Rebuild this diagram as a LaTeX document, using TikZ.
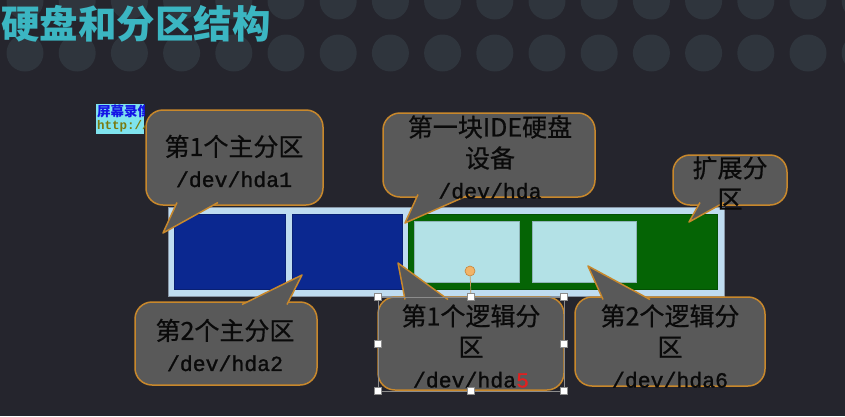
\documentclass[tikz,border=0pt]{standalone}
\usepackage{fontspec}
\newfontfamily\cjk{Noto Sans CJK SC}
\newfontfamily\cjkbody[FakeBold=0.6]{Noto Sans CJK SC}
\newfontfamily\monofnt{Liberation Mono}
\newfontfamily\monobody[FakeBold=1.2]{Liberation Mono}
\definecolor{bgc}{HTML}{25252D}
\definecolor{dotc}{HTML}{2F353D}
\definecolor{titlec}{HTML}{3BB6C2}
\definecolor{callfill}{HTML}{595959}
\definecolor{calledge}{HTML}{C8882C}
\definecolor{calltextc}{HTML}{0A0A0A}
\definecolor{framec}{HTML}{BFDCF0}
\definecolor{frameedge}{HTML}{8896A6}
\definecolor{pblue}{HTML}{0B2890}
\definecolor{pgreen}{HTML}{056405}
\definecolor{plight}{HTML}{B3E1E6}
\definecolor{wmbg}{HTML}{7FE3EE}
\definecolor{wmblue}{HTML}{1414E6}
\definecolor{wmolive}{HTML}{7A7A10}
\definecolor{redfive}{HTML}{E02020}
\definecolor{rotfill}{HTML}{F2B468}
\definecolor{rotedge}{HTML}{C8843A}
\definecolor{rotline}{HTML}{C8965A}
\newcommand\pathtxt[1]{{\monobody\fontsize{21.5}{31}\selectfont #1}}
\begin{document}
\begin{tikzpicture}[x=1pt,y=-1pt,
  callbox/.style={draw=calledge, fill=callfill, line width=1.5pt, rounded corners=17pt, inner sep=0pt},
  tailedge/.style={draw=calledge, line width=1.5pt, line join=round},
  calltext/.style={font={\cjkbody\fontsize{25}{31}\selectfont}, text=calltextc, align=center, inner sep=0pt},
  handle/.style={draw=black!45, fill=white, minimum size=7pt, inner sep=0pt, line width=0.6pt}
]
\useasboundingbox (0,0) rectangle (845,416);
\fill[bgc] (0,0) rectangle (845,416);

% dotted header band
\foreach \i in {0,...,16} {
  \fill[dotc] (25+52.2*\i,1) circle (18.5);
  \fill[dotc] (25+52.2*\i,53) circle (18.5);
}

% title
\node[font={\cjk\bfseries\fontsize{38.5}{40}\selectfont}, text=titlec, anchor=west, inner sep=0pt] (title) at (1,23.5) {硬盘和分区结构};

% recorder watermark
\begin{scope}
  \clip (96,104) rectangle (144,134);
  \fill[wmbg] (96,104) rectangle (144,134);
  \node[anchor=west, inner sep=0pt, font={\cjk\bfseries\fontsize{13.5}{14}\selectfont}, text=wmblue] (wmA) at (97,111) {屏幕录像};
  \node[anchor=west, inner sep=0pt, font={\monofnt\bfseries\fontsize{12.5}{13}\selectfont}, text=wmolive] (wmB) at (97,126) {http://};
\end{scope}

% disk bar with partitions
\filldraw[fill=framec, draw=frameedge, line width=0.8pt] (168,207) rectangle (724,296);
\filldraw[fill=pblue, draw=pblue!80!black, line width=0.5pt] (174,214) rectangle (285,289);
\filldraw[fill=pblue, draw=pblue!80!black, line width=0.5pt] (292,214) rectangle (402,289);
\filldraw[fill=pgreen, draw=pgreen!80!black, line width=0.5pt] (408,214) rectangle (717,289);
\filldraw[fill=plight, draw=plight!80!black, line width=0.4pt] (414,221) rectangle (519,282);
\filldraw[fill=plight, draw=plight!80!black, line width=0.4pt] (532,221) rectangle (636,282);

% callouts above the bar
\node[callbox, minimum width=177pt, minimum height=95pt] (c1) at (234.5,157.5) {};
\coordinate (c1a) at (177,202.5); \coordinate (c1tip) at (163,233); \coordinate (c1b) at (218,202.5);
\fill[callfill] (c1a) -- (c1tip) -- (c1b) -- cycle;
\draw[tailedge] (c1a) -- (c1tip) -- (c1b);

\node[callbox, minimum width=212pt, minimum height=84pt] (c2) at (489,155) {};
\coordinate (c2a) at (418,194.5); \coordinate (c2tip) at (405,223); \coordinate (c2b) at (470,194.5);
\fill[callfill] (c2a) -- (c2tip) -- (c2b) -- cycle;
\draw[tailedge] (c2a) -- (c2tip) -- (c2b);

\node[callbox, minimum width=114pt, minimum height=50pt] (c3) at (730,180) {};
\coordinate (c3a) at (700,202.5); \coordinate (c3tip) at (689,222); \coordinate (c3b) at (724,202.5);
\fill[callfill] (c3a) -- (c3tip) -- (c3b) -- cycle;
\draw[tailedge] (c3a) -- (c3tip) -- (c3b);

% callouts below the bar
\node[callbox, minimum width=182pt, minimum height=83pt] (c4) at (226,343.5) {};
\coordinate (c4a) at (242,304.5); \coordinate (c4tip) at (302,275); \coordinate (c4b) at (287,304.5);
\fill[callfill] (c4a) -- (c4tip) -- (c4b) -- cycle;
\draw[tailedge] (c4a) -- (c4tip) -- (c4b);

\node[callbox, minimum width=186pt, minimum height=93pt] (c5) at (471,343.5) {};
\coordinate (c5a) at (405,299.5); \coordinate (c5tip) at (398,263); \coordinate (c5b) at (448,299.5);
\fill[callfill] (c5a) -- (c5tip) -- (c5b) -- cycle;
\draw[tailedge] (c5a) -- (c5tip) -- (c5b);

\node[callbox, minimum width=190pt, minimum height=89pt] (c6) at (670,341.5) {};
\coordinate (c6a) at (603,299.5); \coordinate (c6tip) at (588,266); \coordinate (c6b) at (650,299.5);
\fill[callfill] (c6a) -- (c6tip) -- (c6b) -- cycle;
\draw[tailedge] (c6a) -- (c6tip) -- (c6b);

% callout texts
\node[calltext] (c1t) at (234,161) {第1个主分区\\\pathtxt{/dev/hda1}};
\node[calltext] (c2t) at (490,157) {第一块IDE硬盘\\设备\\\pathtxt{/dev/hda}};
\node[calltext] (c3t) at (730,183) {扩展分\\区};
\node[calltext] (c4t) at (225,345) {第2个主分区\\\pathtxt{/dev/hda2}};
\node[calltext] (c5t) at (471,346) {第1个逻辑分\\区\\\pathtxt{/dev/hda{\color{redfive}5}}};
\node[calltext] (c6t) at (670,346) {第2个逻辑分\\区\\\pathtxt{/dev/hda6}};

% selection frame with handles
\draw[black!45, line width=0.6pt] (378,297) rectangle (564,391);
\node[handle] (h1) at (378,297) {};
\node[handle] (h2) at (471,297) {};
\node[handle] (h3) at (564,297) {};
\node[handle] (h4) at (378,344) {};
\node[handle] (h5) at (564,344) {};
\node[handle] (h6) at (378,391) {};
\node[handle] (h7) at (471,391) {};
\node[handle] (h8) at (564,391) {};
\node[circle, fill=rotfill, draw=rotedge, line width=0.6pt, minimum size=10pt, inner sep=0pt] (rot) at (470,271) {};
\draw[rotline, line width=0.7pt] (rot) -- (h2);
\end{tikzpicture}
\end{document}
